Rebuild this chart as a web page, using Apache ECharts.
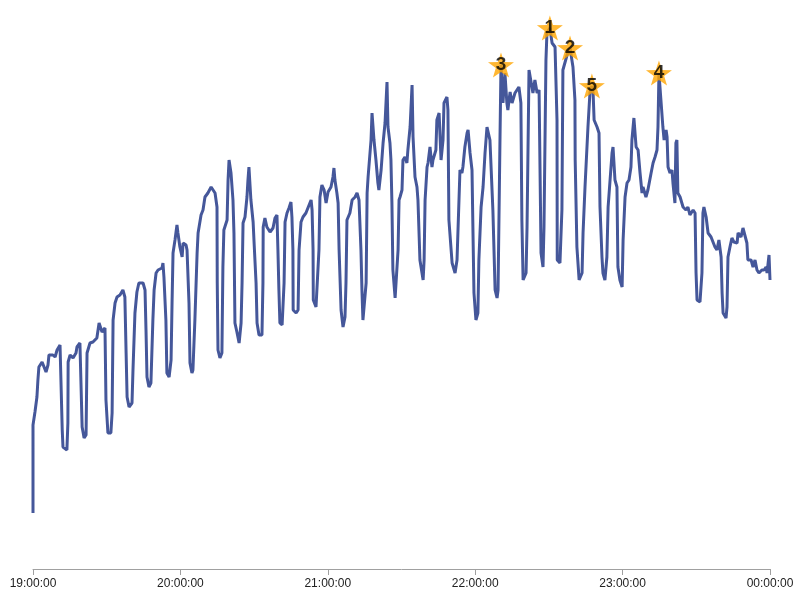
<!DOCTYPE html>
<html>
<head>
<meta charset="utf-8">
<script src="https://cdn.jsdelivr.net/npm/echarts@6/dist/echarts.min.js"></script>
<style>
html,body{margin:0;padding:0;background:#fff;}
#chart{width:800px;height:600px;}
</style>
</head>
<body>
<div id="chart"></div>
<script>
// time of each sample, in minutes after 19:00:00
const minutesAfter1900 = [
0.0,0.0,0.8,1.6,2.0,2.4,3.7,4.1,5.3,6.1,6.5,8.1,9.0,9.8,11.0,11.8,11.9,12.2,13.8,14.2,
14.3,15.1,16.3,17.5,17.9,19.1,19.9,20.0,20.8,21.6,22.0,23.2,24.4,26.0,26.9,28.1,29.3,29.7,30.5,31.7,
32.2,32.6,33.4,34.2,35.4,36.6,37.4,37.9,38.3,39.1,40.3,40.7,41.5,42.3,43.1,44.8,45.6,46.0,46.4,47.2,
48.0,48.8,49.3,50.1,50.9,52.5,52.9,53.3,54.1,54.5,55.4,56.2,56.6,57.0,57.8,58.6,59.0,59.8,60.7,61.1,
62.3,62.7,63.5,63.9,64.7,65.1,65.9,66.8,67.2,68.4,69.2,70.0,71.2,72.5,72.9,74.1,74.9,75.0,75.3,76.1,
76.9,77.3,77.7,79.0,79.4,79.8,80.6,81.0,81.4,81.8,82.2,83.0,83.9,84.7,85.1,85.5,86.3,87.1,87.5,87.9,
88.7,89.6,90.0,90.8,91.2,92.0,93.2,93.6,93.7,94.4,95.2,96.5,97.7,98.5,99.3,99.7,100.1,100.5,101.4,102.2,
102.6,103.4,104.2,105.0,105.4,105.8,105.9,107.1,107.9,108.3,109.1,109.9,111.1,111.9,113.2,113.6,114.0,114.1,115.2,116.0,
116.4,116.8,117.6,118.5,119.3,120.1,121.3,122.1,122.5,122.9,123.7,124.2,124.6,125.4,126.2,127.0,127.4,127.8,129.0,129.9,
131.1,131.9,132.7,133.5,133.9,134.3,135.1,135.6,136.0,136.4,137.6,138.0,138.8,139.6,140.4,140.8,141.7,142.5,143.3,144.1,
144.5,145.3,145.7,146.1,146.5,147.4,148.2,148.6,149.0,149.4,150.2,150.6,151.4,152.2,152.6,153.5,154.3,154.7,155.5,156.3,
156.7,157.5,158.8,159.2,159.6,160.4,160.8,161.6,162.4,162.8,164.0,164.4,165.3,166.1,166.9,167.3,168.5,168.9,169.3,170.6,
171.8,172.6,173.4,173.8,174.6,175.0,175.8,176.7,177.1,177.9,178.7,179.1,179.5,180.3,181.1,181.5,182.4,183.2,184.0,184.8,
185.2,186.0,186.8,187.2,188.1,188.9,189.3,190.1,190.5,191.3,192.1,192.9,193.3,194.2,195.0,196.2,197.0,197.8,198.6,199.0,
199.5,200.7,201.1,201.9,202.7,203.5,204.3,205.2,206.0,206.8,207.6,208.0,208.8,209.2,210.4,211.3,212.5,213.3,213.4,214.5,
215.3,215.7,217.4,218.6,219.8,220.6,220.7,221.4,222.3,223.5,223.9,224.7,225.5,225.9,226.7,227.5,228.0,228.4,229.6,230.4,
230.8,231.6,232.0,232.8,233.6,234.1,234.9,235.7,236.1,236.9,237.7,238.1,238.9,239.8,240.2,241.0,241.8,242.6,243.4,243.8,
244.6,245.5,246.3,247.1,247.9,248.3,249.5,250.3,251.6,252.4,253.2,254.0,254.4,254.8,255.6,256.4,256.9,257.7,258.1,258.5,
259.3,260.1,260.5,261.3,261.7,262.1,262.5,263.4,264.2,264.6,265.8,266.6,267.4,268.7,269.5,269.9,270.3,271.5,272.3,272.7,
273.1,274.0,274.8,276.0,276.8,277.6,278.4,279.2,280.1,280.5,280.9,282.1,282.5,282.9,283.7,284.5,285.3,286.6,287.0,288.2,
289.0,289.8,290.6,291.0,292.3,293.1,293.9,294.7,295.5,296.7,297.6,298.4,298.8,299.6,300.0
];
const values = [
56,144,157,172,189,202,207,207,197,204,214,214,212,219,224,226,139,122,119,146,
207,214,211,216,222,226,227,142,131,134,216,226,227,231,246,237,241,169,136,136,
156,249,266,272,274,279,272,216,172,162,166,199,256,277,286,286,279,239,192,182,
186,249,279,296,299,301,306,292,249,196,192,209,266,316,329,344,336,322,312,326,
324,319,266,206,196,199,249,316,336,354,359,372,376,382,381,376,362,286,219,211,
216,302,339,349,389,409,396,394,369,336,246,237,226,246,286,346,352,372,389,402,
369,347,326,286,246,234,234,286,342,351,342,337,341,351,354,319,279,246,244,286,
347,356,361,367,352,319,259,256,259,319,347,352,356,357,369,359,319,269,262,264,
319,372,384,379,366,377,382,392,401,389,376,366,319,259,242,252,286,349,356,369,
372,376,369,319,279,249,247,286,376,392,429,456,429,409,386,379,399,426,446,487,
442,426,409,366,299,271,271,319,369,372,379,409,412,406,419,442,484,432,392,382,
369,309,289,309,369,402,406,422,402,409,419,449,456,409,429,466,472,459,349,306,
296,309,369,399,396,402,422,436,439,416,399,336,276,249,256,309,362,382,416,442,
442,429,429,359,279,271,279,432,504,466,496,466,459,477,466,476,479,482,466,349,
289,296,342,499,499,476,489,476,479,316,302,342,509,536,541,526,522,449,309,306,
359,499,514,521,502,469,409,322,289,296,336,382,422,442,476,483,476,449,442,436,
362,312,296,289,312,362,389,416,422,389,382,302,289,282,329,372,386,389,402,429,
451,422,419,396,376,382,372,379,396,406,412,419,442,496,469,442,429,439,432,402,
396,399,386,366,426,429,376,372,372,362,359,362,354,359,356,296,269,267,296,356,
362,352,336,332,334,322,319,329,312,276,256,251,262,312,322,331,327,326,336,332,
341,341,326,309,309,302,309,299,296,299,299,302,296,314,289
];
// times (minutes after 19:00) of the five highlighted peaks
const peakMinutes = [190.5, 210.4, 218.6, 227.5, 254.8];
const tickLabels = ['19:00:00','20:00:00','21:00:00','22:00:00','23:00:00','00:00:00'];

const lineData = minutesAfter1900.map((m, i) => [m, values[i]]);
const peaks = peakMinutes.map(m => [m, values[minutesAfter1900.indexOf(m)]]);
const sorted = peaks.slice().sort((a, b) => b[1] - a[1]);
const peakData = peaks.map(p => [p[0], p[1], sorted.indexOf(p) + 1]);

// five-pointed star with slightly fuller arms
const star = 'path://M50,0 L62,36 L100,37 L70,59 L81,95 L50,74 L19,95 L30,59 L0,37 L38,36 Z';

const chart = echarts.init(document.getElementById('chart'));
chart.setOption({
  animation: false,
  backgroundColor: '#ffffff',
  grid: { left: 33, right: 30, top: 0, bottom: 31 },
  xAxis: {
    type: 'value', min: 0, max: 300, interval: 60,
    axisLine: { lineStyle: { color: '#a0a0a0', width: 1 } },
    axisTick: { show: true, length: 6, lineStyle: { color: '#a0a0a0' } },
    splitLine: { show: false },
    axisLabel: {
      color: '#222', fontSize: 12, fontFamily: 'Liberation Sans, Arial, sans-serif',
      margin: 9,
      formatter: v => tickLabels[Math.round(v / 60)]
    }
  },
  yAxis: { type: 'value', min: 0, max: 569, show: false, splitLine: { show: false } },
  series: [
    {
      type: 'line', data: lineData, showSymbol: false, symbol: 'none',
      lineStyle: { color: '#45579a', width: 3 }, z: 2
    },
    {
      type: 'scatter', data: peakData, symbol: star, symbolSize: [26, 25],
      itemStyle: { color: '#FFA500' }, z: 5,
      label: {
        show: true, position: 'inside', formatter: p => String(p.data[2]),
        color: '#000', fontSize: 19, fontWeight: 'bold',
        fontFamily: 'Liberation Sans, Arial, sans-serif'
      }
    }
  ]
});
</script>
</body>
</html>
